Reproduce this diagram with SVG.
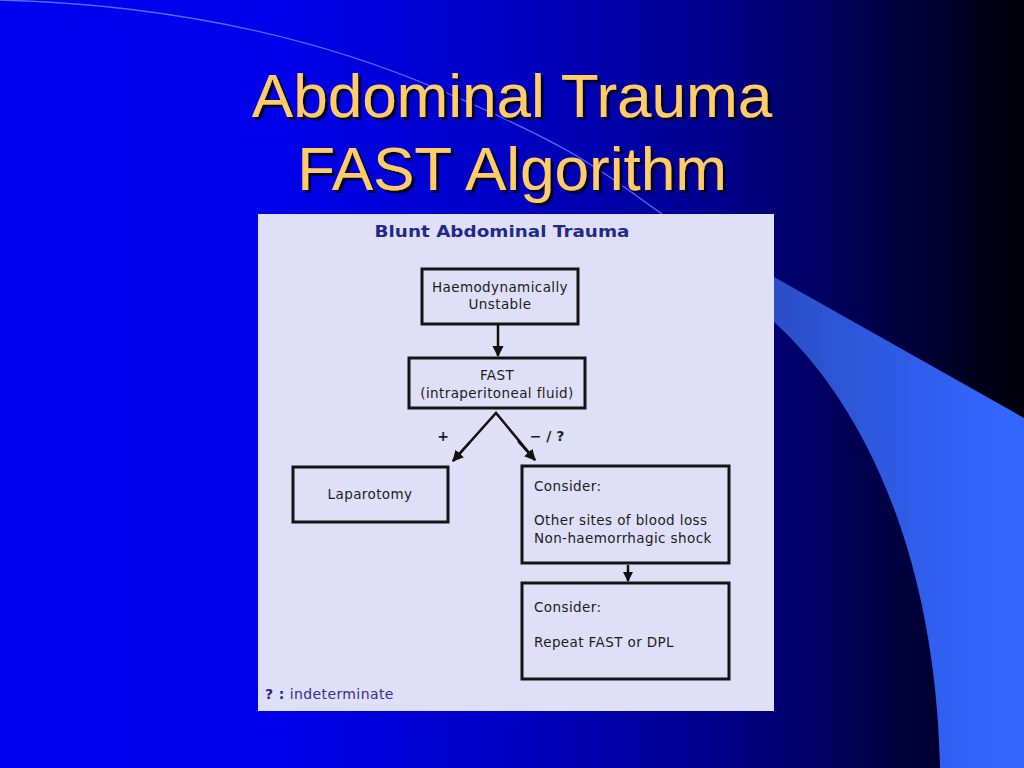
<svg xmlns="http://www.w3.org/2000/svg" width="1024" height="768" viewBox="0 0 1024 768">
<defs>
<linearGradient id="bg" x1="0" y1="0" x2="1" y2="0">
<stop offset="0" stop-color="#0000f0"/>
<stop offset="0.28" stop-color="#0000ea"/>
<stop offset="0.5" stop-color="#0000c4"/>
<stop offset="0.7" stop-color="#00008c"/>
<stop offset="0.86" stop-color="#000048"/>
<stop offset="1" stop-color="#000008"/>
</linearGradient>
<linearGradient id="band" gradientUnits="userSpaceOnUse" x1="774" y1="0" x2="1000" y2="0">
<stop offset="0" stop-color="#2a4ec6"/>
<stop offset="1" stop-color="#3366ff"/>
</linearGradient>
<filter id="shadow" x="-5%" y="-20%" width="110%" height="140%">
<feDropShadow dx="3" dy="3" stdDeviation="0.6" flood-color="#000020" flood-opacity="0.9"/>
</filter>
<marker id="ah" viewBox="0 0 10 10" refX="9" refY="5" markerWidth="4.5" markerHeight="4.5" orient="auto" markerUnits="strokeWidth">
<path d="M0,0 L10,5 L0,10 z" fill="#111"/>
</marker>
<marker id="ahs" viewBox="0 0 10 10" refX="9" refY="5" markerWidth="4" markerHeight="4" orient="auto" markerUnits="strokeWidth">
<path d="M0,0 L10,5 L0,10 z" fill="#111"/>
</marker>
</defs>
<style>
.title{font-family:"Liberation Sans",Arial,sans-serif;font-size:62px;text-anchor:middle;fill:#ffcc66}
.box{fill:none;stroke:#141414;stroke-width:3}
.txt{font-family:"DejaVu Sans",Verdana,sans-serif;font-size:13.5px;letter-spacing:0.4px;fill:#1c1c1c}
.mid{text-anchor:middle}
.conn{stroke:#111;stroke-width:2.5;fill:none}
.lbl{font-family:"DejaVu Sans",Verdana,sans-serif;font-size:14px;font-weight:bold;fill:#1c1c1c;text-anchor:middle}
</style>
<rect x="0" y="0" width="1024" height="768" fill="url(#bg)"/>
<path d="M0 0 C150 4 300 30 440 90 S600 170 662 214" fill="none" stroke="#5a7cff" stroke-width="1.3" opacity="0.9"/>
<path d="M774 277 L1024 418 L1024 768 L940 768 C935 540 855 395 774 322 Z" fill="url(#band)"/>
<g id="title" filter="url(#shadow)">
<text class="title" x="512" y="117">Abdominal Trauma</text>
<text class="title" x="512" y="190">FAST Algorithm</text>
</g>
<rect id="panel" x="258" y="214" width="516" height="497" fill="#dfe0f8"/>
<text id="panel-title" x="502" y="237" font-family="'DejaVu Sans',Verdana,sans-serif" font-size="15" font-weight="bold" fill="#222a88" text-anchor="middle" textLength="255" lengthAdjust="spacingAndGlyphs">Blunt Abdominal Trauma</text>
<g id="connectors">
<line class="conn" x1="498" y1="325" x2="498" y2="356" marker-end="url(#ah)"/>
<polyline class="conn" points="453,461 496,413 535,460"/>
<line class="conn" x1="470" y1="442" x2="453" y2="461" marker-end="url(#ah)"/>
<line class="conn" x1="518" y1="441" x2="535" y2="460" marker-end="url(#ah)"/>
<line class="conn" x1="628" y1="565" x2="628" y2="581" stroke-width="2" marker-end="url(#ahs)"/>
<text class="lbl" x="443" y="441">+</text>
<text class="lbl" x="547" y="441">− / ?</text>
</g>
<g id="node-unstable">
<rect class="box" x="422" y="269" width="156" height="55"/>
<text class="txt mid" x="500" y="292">Haemodynamically</text>
<text class="txt mid" x="500" y="309">Unstable</text>
</g>
<g id="node-fast">
<rect class="box" x="409" y="358" width="176" height="50"/>
<text class="txt mid" x="497" y="380">FAST</text>
<text class="txt mid" x="497" y="398">(intraperitoneal fluid)</text>
</g>
<g id="node-laparotomy">
<rect class="box" x="293" y="467" width="155" height="55"/>
<text class="txt mid" x="370" y="499">Laparotomy</text>
</g>
<g id="node-consider1">
<rect class="box" x="522" y="466" width="207" height="97"/>
<text class="txt" x="534" y="491">Consider:</text>
<text class="txt" x="534" y="525">Other sites of blood loss</text>
<text class="txt" x="534" y="543">Non-haemorrhagic shock</text>
</g>
<g id="node-consider2">
<rect class="box" x="522" y="583" width="207" height="96"/>
<text class="txt" x="534" y="612">Consider:</text>
<text class="txt" x="534" y="647">Repeat FAST or DPL</text>
</g>
<g id="legend">
<text x="265" y="699" font-family="'DejaVu Sans',Verdana,sans-serif" font-size="14" letter-spacing="0.4"><tspan font-weight="bold" fill="#222a88">? :</tspan><tspan fill="#3a2c8c"> indeterminate</tspan></text>
</g>
</svg>
